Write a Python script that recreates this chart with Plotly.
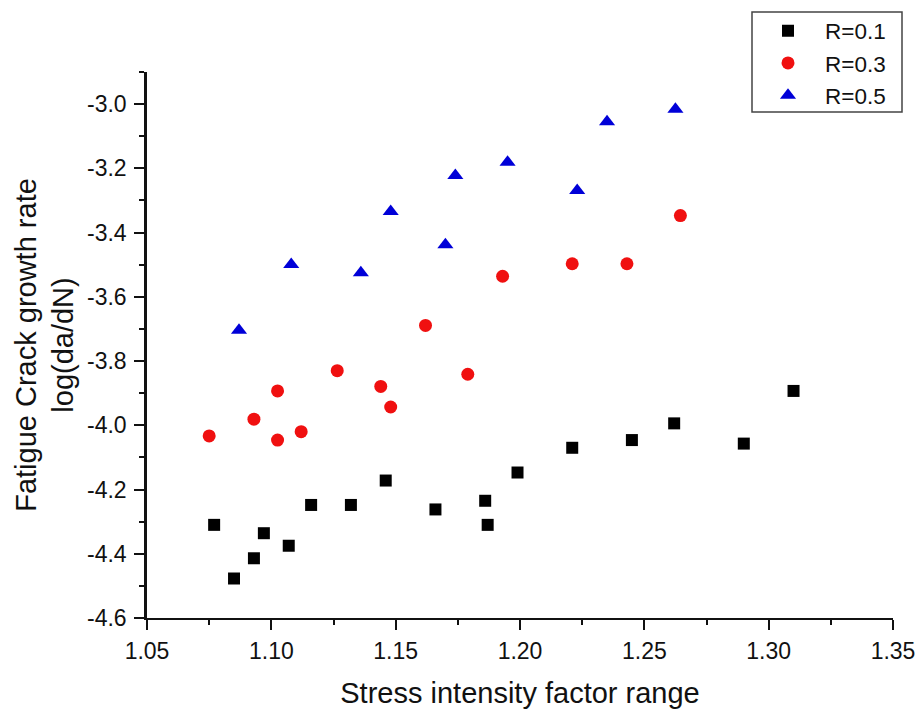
import plotly.graph_objects as go

# R=0.1 (black squares)
r01_x = [1.077, 1.085, 1.093, 1.097, 1.107, 1.116, 1.132, 1.146, 1.166, 1.186, 1.187, 1.199, 1.221, 1.245, 1.262, 1.290, 1.310]
r01_y = [-4.310, -4.477, -4.414, -4.336, -4.375, -4.248, -4.248, -4.172, -4.262, -4.235, -4.310, -4.147, -4.070, -4.046, -3.994, -4.057, -3.893]

# R=0.3 (red circles)
r03_x = [1.075, 1.093, 1.1025, 1.1025, 1.112, 1.1265, 1.144, 1.148, 1.162, 1.179, 1.193, 1.221, 1.243, 1.2645]
r03_y = [-4.033, -3.981, -3.893, -4.046, -4.020, -3.830, -3.879, -3.943, -3.689, -3.841, -3.536, -3.497, -3.497, -3.347]

# R=0.5 (blue triangles)
r05_x = [1.087, 1.108, 1.136, 1.148, 1.170, 1.174, 1.195, 1.223, 1.235, 1.2625]
r05_y = [-3.704, -3.499, -3.525, -3.334, -3.438, -3.222, -3.181, -3.269, -3.055, -3.016]

x_tick_vals = [1.05, 1.10, 1.15, 1.20, 1.25, 1.30, 1.35]
x_tick_text = ["1.05", "1.10", "1.15", "1.20", "1.25", "1.30", "1.35"]
y_tick_vals = [-4.6, -4.4, -4.2, -4.0, -3.8, -3.6, -3.4, -3.2, -3.0]
y_tick_text = ["-4.6", "-4.4", "-4.2", "-4.0", "-3.8", "-3.6", "-3.4", "-3.2", "-3.0"]

FONT = "Arial, 'Liberation Sans', Helvetica, sans-serif"
INK = "#111111"

fig = go.Figure()
fig.add_trace(go.Scatter(x=r01_x, y=r01_y, mode="markers", name="R=0.1",
                         marker=dict(symbol="square", size=12, color="#000000",
                                     line=dict(width=0))))
fig.add_trace(go.Scatter(x=r03_x, y=r03_y, mode="markers", name="R=0.3",
                         marker=dict(symbol="circle", size=13, color="#f01010",
                                     line=dict(width=0))))
fig.add_trace(go.Scatter(x=r05_x, y=r05_y, mode="markers", name="R=0.5",
                         marker=dict(symbol="triangle-up", size=14, color="#0000d8",
                                     line=dict(width=0))))

L, T, PW, PH = 147, 72, 746, 546
W, H = 920, 709

def px(xf):
    return (xf - L) / PW

def py(yf):
    return 1 + (T - yf) / PH

fig.update_layout(
    width=W, height=H,
    margin=dict(l=L, r=W - L - PW, t=T, b=H - T - PH, autoexpand=False),
    paper_bgcolor="white", plot_bgcolor="white",
    font=dict(family=FONT, color=INK),
    showlegend=True,
    legend=dict(
        x=px(751), y=py(63),
        xanchor="left", yanchor="middle",
        bgcolor="rgba(0,0,0,0)", borderwidth=0,
        font=dict(size=22.5, family=FONT, color=INK),
        itemwidth=64, tracegroupgap=0,
    ),
    shapes=[dict(type="rect", xref="paper", yref="paper",
                 x0=px(752), x1=px(902), y0=py(112), y1=py(12),
                 line=dict(color="#444444", width=1.5), fillcolor="rgba(0,0,0,0)")],
    xaxis=dict(
        range=[1.05, 1.35], tickvals=x_tick_vals, ticktext=x_tick_text,
        automargin=False,
        showline=True, linecolor=INK, linewidth=1.5,
        ticks="outside", ticklen=10, tickwidth=1.5, tickcolor=INK,
        ticklabelstandoff=2,
        minor=dict(ticks="outside", ticklen=5, tickwidth=1.5, tickcolor=INK, dtick=0.025, tick0=1.05),
        showgrid=False, zeroline=False,
        tickfont=dict(size=23, family=FONT, color=INK),
        title=dict(text="Stress intensity factor range", font=dict(size=29, family=FONT, color=INK), standoff=23),
    ),
    yaxis=dict(
        range=[-4.6, -2.9], tickvals=y_tick_vals, ticktext=y_tick_text,
        automargin=False,
        showline=True, linecolor=INK, linewidth=2.5,
        ticks="outside", ticklen=10, tickwidth=1.5, tickcolor=INK,
        ticklabelstandoff=3,
        minor=dict(ticks="outside", ticklen=5, tickwidth=1.5, tickcolor=INK, dtick=0.1, tick0=-4.6),
        showgrid=False, zeroline=False,
        tickfont=dict(size=23, family=FONT, color=INK),
        title=dict(text="Fatigue Crack growth rate<br>log(da/dN)", font=dict(size=29, family=FONT, color=INK), standoff=5),
    ),
)

# remove the default 8px page margin so the 920x709 figure fills the window exactly
fig.write_html("out.html", config={"displayModeBar": False},
               post_script="document.body.style.margin='0';")
